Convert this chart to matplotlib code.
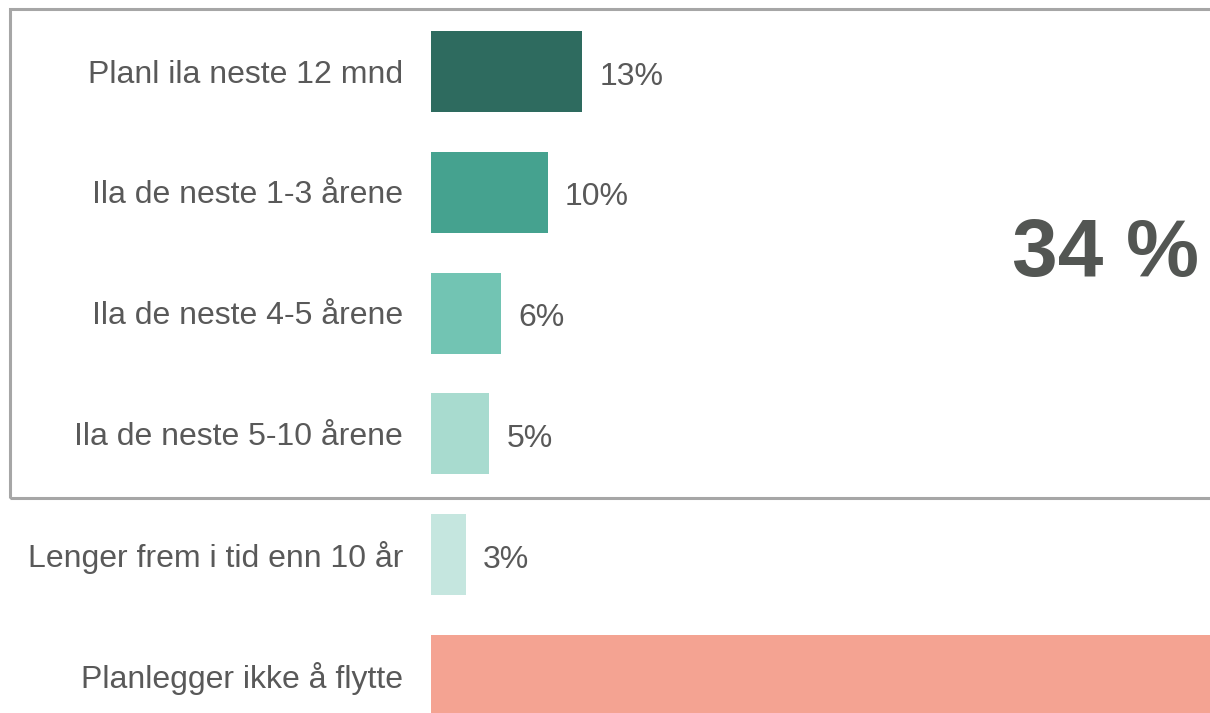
import matplotlib.pyplot as plt
from matplotlib.patches import Rectangle
from matplotlib import transforms

plt.rcParams['font.family'] = ['Liberation Sans', 'DejaVu Sans']

categories = ['Planl ila neste 12 mnd', 'Ila de neste 1-3 årene', 'Ila de neste 4-5 årene',
              'Ila de neste 5-10 årene', 'Lenger frem i tid enn 10 år', 'Planlegger ikke å flytte']
values = [13, 10, 6, 5, 3, 68]
# the last bar runs past the edge, so its value is not printed
value_labels = ['13%', '10%', '6%', '5%', '3%', '']
colors = ['#2e6b5f', '#45a28f', '#72c4b3', '#a8dbcf', '#c5e6df', '#f4a392']
total_label = '34 %'

W, H = 1210, 713
fig = plt.figure(figsize=(W / 100, H / 100), dpi=100)

# bar area: starts at x=431 px and runs off the right edge
ax = fig.add_axes([431 / W, 0, 1 - 431 / W, 1])
ypos = list(range(len(categories)))
ax.barh(ypos, values, height=0.67, color=colors)
ax.set_ylim(5 + (H - 675.5) / 120.8, -71.5 / 120.8)
ax.set_xlim(0, (W - 431) / 11.65)
ax.axis('off')

txt = '#595959'
off = transforms.offset_copy(ax.transData, fig=fig, x=17, y=-5, units='dots')
lab = transforms.offset_copy(ax.transData, fig=fig, x=-28, y=-3, units='dots')
for y, v, c, vl in zip(ypos, values, categories, value_labels):
    ax.text(0, y, c, transform=lab, ha='right', va='center', fontsize=23, color=txt, clip_on=False)
    if vl:
        ax.text(v, y, vl, transform=off, ha='left', va='center', fontsize=23, color=txt)

# frame around the first four rows
box = Rectangle((10 / W, 1 - 497.5 / H), (W + 20) / W, (497.5 - 8.5) / H, transform=fig.transFigure,
                fill=False, edgecolor='#a6a6a6', linewidth=2.2, clip_on=False)
fig.patches.append(box)

fig.text(1105 / W, 1 - 255 / H, total_label, ha='center', va='center', fontsize=59,
         fontweight='bold', color='#535653')

fig.savefig('out.png', dpi=100)
